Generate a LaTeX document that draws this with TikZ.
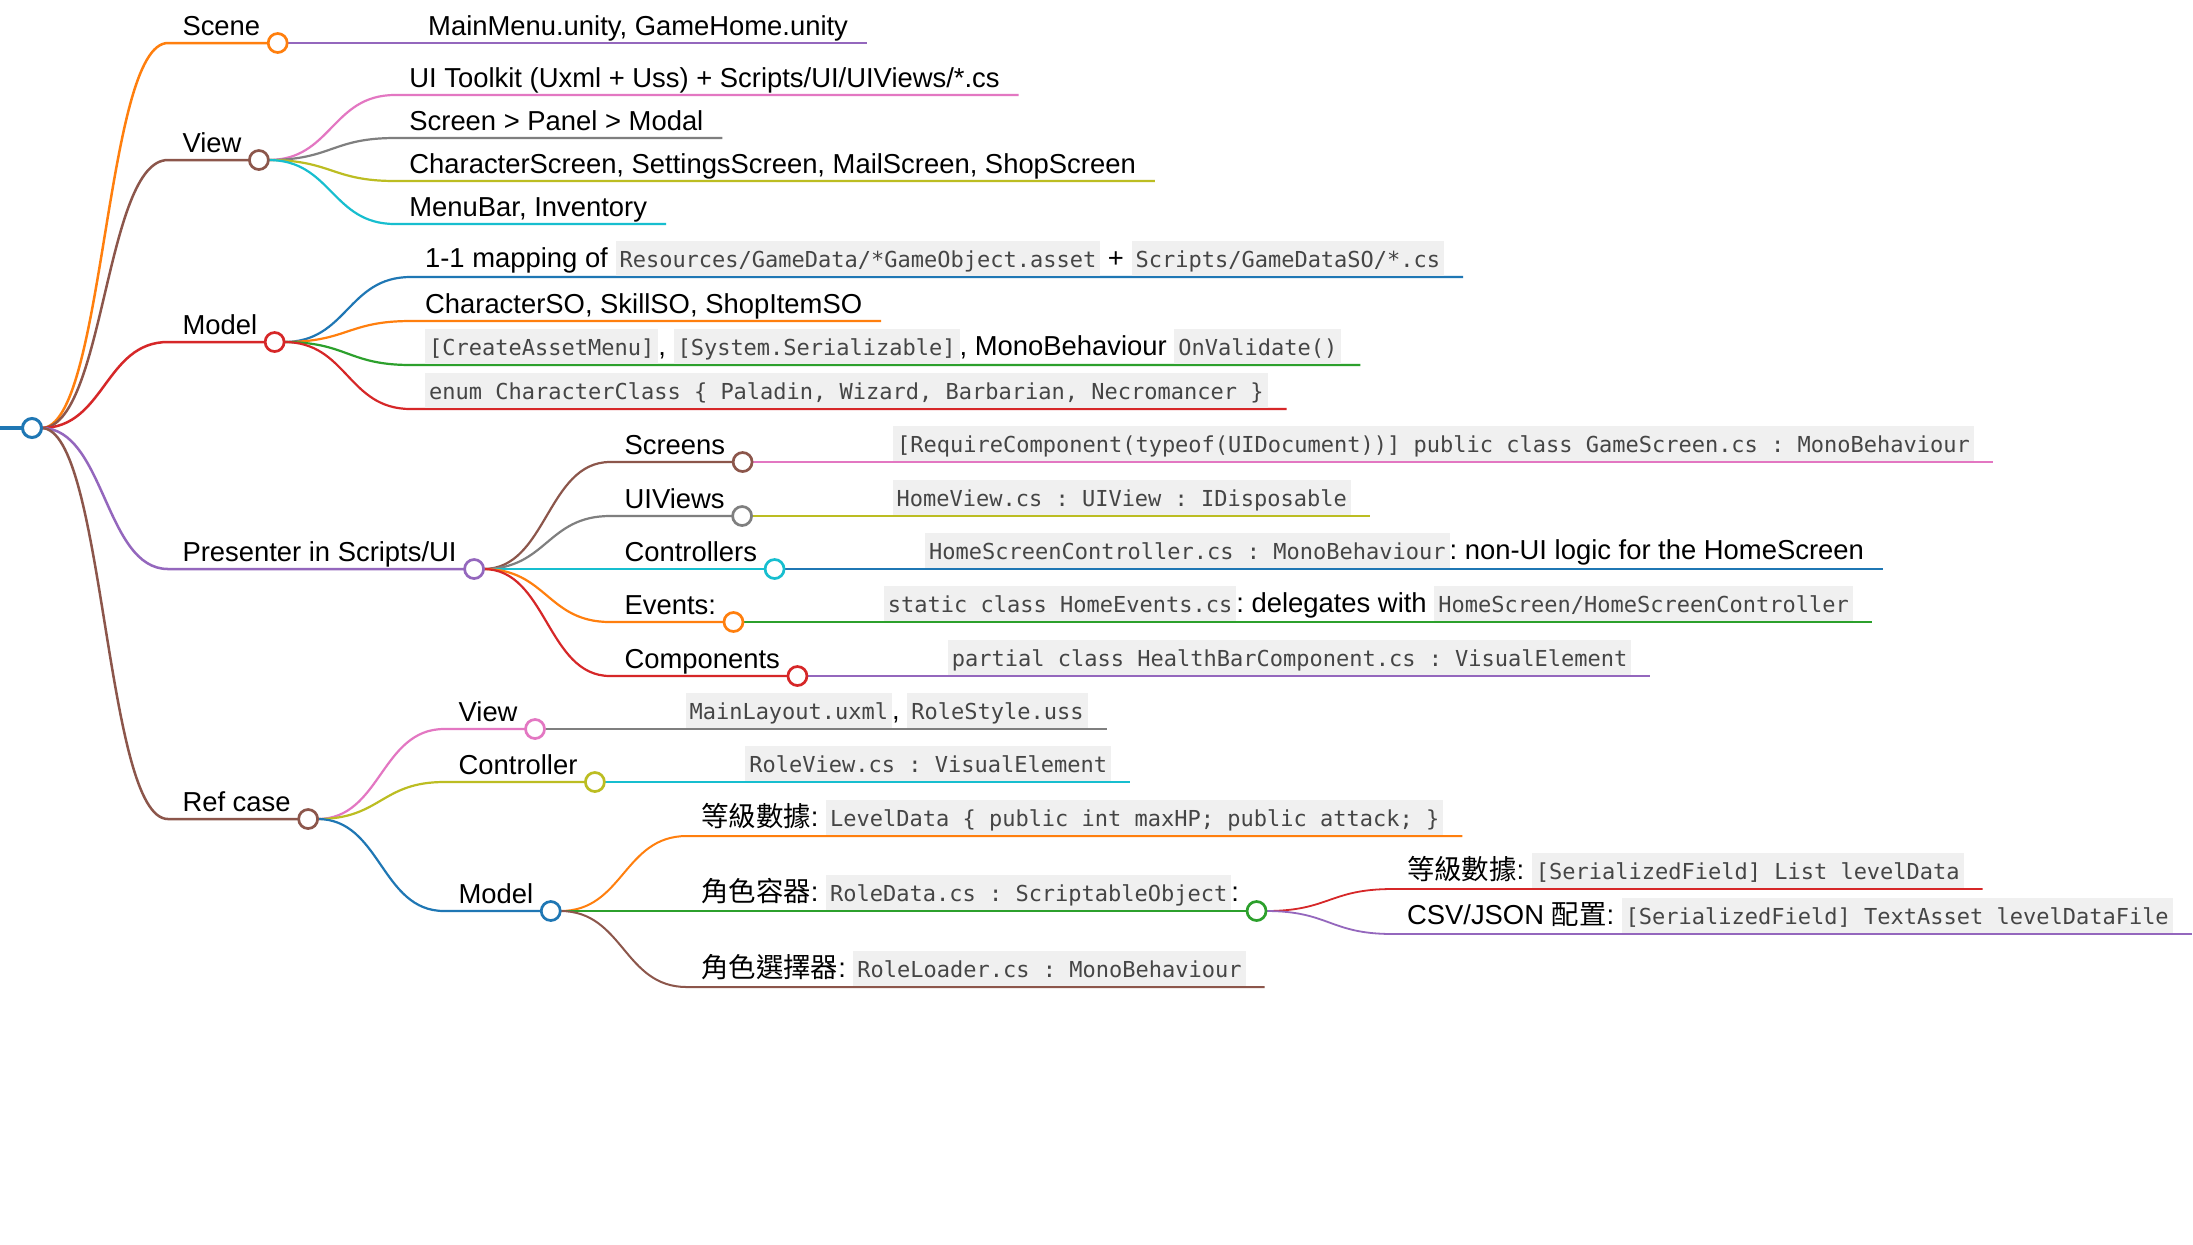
\documentclass[tikz,border=0pt]{standalone}
\usepackage{fontspec}
\setmainfont{Liberation Sans}
\newfontfamily\codefont{DejaVu Sans Mono}
\newfontfamily\cjkf{Noto Sans CJK TC}
\usetikzlibrary{calc}
\definecolor{cblue}{HTML}{1F77B4}
\definecolor{corange}{HTML}{FF7F0E}
\definecolor{cgreen}{HTML}{2CA02C}
\definecolor{cred}{HTML}{D62728}
\definecolor{cpurple}{HTML}{9467BD}
\definecolor{cbrown}{HTML}{8C564B}
\definecolor{cpink}{HTML}{E377C2}
\definecolor{cgray}{HTML}{7F7F7F}
\definecolor{colive}{HTML}{BCBD22}
\definecolor{ccyan}{HTML}{17BECF}
\definecolor{codebg}{HTML}{F0F0F0}
\definecolor{codetx}{HTML}{454545}
\pgfdeclarelayer{back}
\pgfdeclarelayer{bg}
\pgfsetlayers{back,bg,main}
\frenchspacing
\newcommand\mcode[1]{{\setlength{\fboxsep}{0pt}\colorbox{codebg}{\rule[-4.5pt]{0pt}{17.5pt}\hspace{2pt}{\codefont\fontsize{11pt}{13pt}\selectfont\color{codetx}#1}\hspace{2pt}}}}
% #1 name, #2 parent, #3 line y, #4 colour, #5 line width, #6 baseline offset, #7 1=circle 0=leaf, #8 text
\newcommand\mmnode[8]{%
  \path (#2.center) ++(136,0) coordinate (#1tx);
  \coordinate (#1ty) at (0,#3);
  \coordinate (#1s) at (#1tx |- #1ty);
  \node[txt] (#1t) at ([shift={(14.5,-#6)}]#1s) {#8};
  \ifnum#7=1
    \node[circ, draw=#4] (#1) at ([shift={(17.5,#6)}]#1t.base east) {};
    \coordinate (#1e) at (#1.center);
  \else
    \coordinate (#1e) at ([shift={(19,#6)}]#1t.base east);
  \fi
  \begin{pgfonlayer}{bg}
  \draw[#4, line width=#5] let \p1=(#2.east), \p2=(#1s) in (\p1) .. controls ({(\x1+\x2)/2},\y1) and ({(\x1+\x2)/2},\y2) .. (\p2) -- (#1e);
  \end{pgfonlayer}
}
\begin{document}
\begin{tikzpicture}[x=0.5pt,y=-0.5pt,
  txt/.style={anchor=base west, inner sep=0pt, outer sep=0pt, font=\fontsize{13.7pt}{16pt}\selectfont, text=black},
  circ/.style={circle, fill=white, minimum size=9.5pt, inner sep=0pt, outer sep=0pt, line width=1.35pt}]
\begin{pgfonlayer}{back}
\fill[white] (0,0) rectangle (2193,1244);
\end{pgfonlayer}
\useasboundingbox (0,0) rectangle (2193,1244);
\node[circ, draw=cblue, line width=1.5pt] (root) at (32,428) {};
\begin{pgfonlayer}{bg}
\draw[cblue, line width=1.6pt] (0,428) -- (root.center);
\end{pgfonlayer}
% Scene
\mmnode{sc}{root}{43}{corange}{1.25pt}{8}{1}{Scene}
\mmnode{sca}{sc}{43}{cpurple}{1.1pt}{8}{0}{MainMenu.unity, GameHome.unity}
% View
\mmnode{vw}{root}{160}{cbrown}{1.25pt}{8}{1}{View}
\mmnode{vwa}{vw}{95}{cpink}{1.1pt}{8}{0}{UI Toolkit (Uxml + Uss) + Scripts/UI/UIViews/*.cs}
\mmnode{vwb}{vw}{138}{cgray}{1.1pt}{8}{0}{Screen > Panel > Modal}
\mmnode{vwc}{vw}{181}{colive}{1.1pt}{8}{0}{CharacterScreen, SettingsScreen, MailScreen, ShopScreen}
\mmnode{vwd}{vw}{224}{ccyan}{1.1pt}{8}{0}{MenuBar, Inventory}
% Model
\mmnode{md}{root}{342}{cred}{1.25pt}{8}{1}{Model}
\mmnode{mda}{md}{277}{cblue}{1.1pt}{10}{0}{1-1 mapping of \mcode{Resources/GameData/*GameObject.asset} + \mcode{Scripts/GameDataSO/*.cs}}
\mmnode{mdb}{md}{321}{corange}{1.1pt}{8}{0}{CharacterSO, SkillSO, ShopItemSO}
\mmnode{mdc}{md}{365}{cgreen}{1.1pt}{10}{0}{\mcode{[CreateAssetMenu]}, \mcode{[System.Serializable]}, MonoBehaviour \mcode{OnValidate()}}
\mmnode{mdd}{md}{409}{cred}{1.1pt}{10}{0}{\mcode{enum CharacterClass \{ Paladin, Wizard, Barbarian, Necromancer \}}}
% Presenter
\mmnode{pr}{root}{569}{cpurple}{1.25pt}{8}{1}{Presenter in Scripts/UI}
\mmnode{pra}{pr}{462}{cbrown}{1.1pt}{8}{1}{Screens}
\mmnode{praa}{pra}{462}{cpink}{1pt}{10}{0}{\mcode{[RequireComponent(typeof(UIDocument))] public class GameScreen.cs : MonoBehaviour}}
\mmnode{prb}{pr}{516}{cgray}{1.1pt}{8}{1}{UIViews}
\mmnode{prba}{prb}{516}{colive}{1pt}{10}{0}{\mcode{HomeView.cs : UIView : IDisposable}}
\mmnode{prc}{pr}{569}{ccyan}{1.1pt}{8}{1}{Controllers}
\mmnode{prca}{prc}{569}{cblue}{1pt}{10}{0}{\mcode{HomeScreenController.cs : MonoBehaviour}: non-UI logic for the HomeScreen}
\mmnode{prd}{pr}{622}{corange}{1.1pt}{8}{1}{Events:}
\mmnode{prda}{prd}{622}{cgreen}{1pt}{10}{0}{\mcode{static class HomeEvents.cs}: delegates with \mcode{HomeScreen/HomeScreenController}}
\mmnode{pre}{pr}{676}{cred}{1.1pt}{8}{1}{Components}
\mmnode{prea}{pre}{676}{cpurple}{1pt}{10}{0}{\mcode{partial class HealthBarComponent.cs : VisualElement}}
% Ref case
\mmnode{rf}{root}{819}{cbrown}{1.25pt}{8}{1}{Ref case}
\mmnode{rfa}{rf}{729}{cpink}{1.1pt}{8}{1}{View}
\mmnode{rfaa}{rfa}{729}{cgray}{1pt}{10}{0}{\mcode{MainLayout.uxml}, \mcode{RoleStyle.uss}}
\mmnode{rfb}{rf}{782}{colive}{1.1pt}{8}{1}{Controller}
\mmnode{rfba}{rfb}{782}{ccyan}{1pt}{10}{0}{\mcode{RoleView.cs : VisualElement}}
\mmnode{rfc}{rf}{911}{cblue}{1.1pt}{8}{1}{Model}
\mmnode{rfca}{rfc}{836}{corange}{1pt}{10}{0}{{\cjkf 等級數據}: \mcode{LevelData \{ public int maxHP; public attack; \}}}
\mmnode{rfcb}{rfc}{911}{cgreen}{1pt}{10}{1}{{\cjkf 角色容器}: \mcode{RoleData.cs : ScriptableObject}:}
\mmnode{rfcba}{rfcb}{889}{cred}{0.9pt}{10}{0}{{\cjkf 等級數據}: \mcode{[SerializedField] List levelData}}
\mmnode{rfcbb}{rfcb}{934}{cpurple}{0.9pt}{10}{0}{CSV/JSON {\cjkf 配置}: \mcode{[SerializedField] TextAsset levelDataFile}}
\mmnode{rfcc}{rfc}{987}{cbrown}{1pt}{10}{0}{{\cjkf 角色選擇器}: \mcode{RoleLoader.cs : MonoBehaviour}}
\end{tikzpicture}
\end{document}
